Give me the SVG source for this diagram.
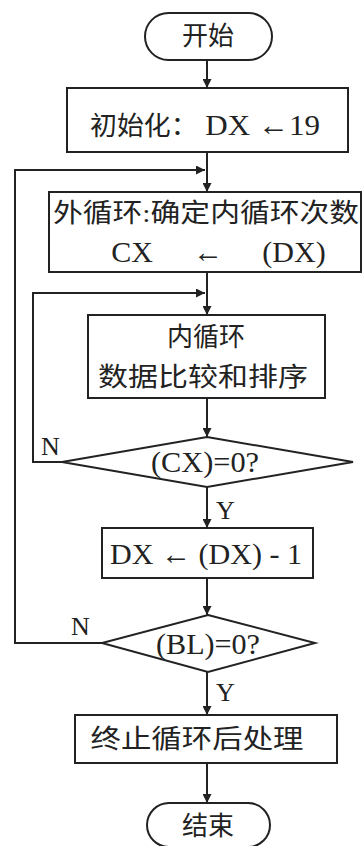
<svg xmlns="http://www.w3.org/2000/svg" width="363" height="846" viewBox="0 0 363 846">
<style>
.s{fill:#fff;stroke:#222;stroke-width:2}
.c{fill:none;stroke:#222;stroke-width:2}
.t{font-family:"Liberation Serif","Noto Sans CJK SC",serif;font-size:26px;fill:#222;text-anchor:middle}
.r{font-size:30px}
.l{font-family:"Liberation Serif",serif;font-size:26px;fill:#222}
</style>
<defs>
<marker id="a" viewBox="0 0 10 10" refX="10" refY="5" markerWidth="9" markerHeight="9" markerUnits="userSpaceOnUse" orient="auto">
<path d="M0,0 L10,5 L0,10 Z" fill="#222"/>
</marker>
</defs>
<rect width="363" height="846" fill="#fff"/>
<g id="connectors">
<line class="c" x1="207" y1="60" x2="207" y2="88" marker-end="url(#a)"/>
<line class="c" x1="207" y1="152" x2="207" y2="192" marker-end="url(#a)"/>
<line class="c" x1="207" y1="272" x2="207" y2="315" marker-end="url(#a)"/>
<line class="c" x1="207" y1="398" x2="207" y2="437" marker-end="url(#a)"/>
<line class="c" x1="207" y1="487" x2="207" y2="528" marker-end="url(#a)"/>
<line class="c" x1="207" y1="578" x2="207" y2="615" marker-end="url(#a)"/>
<line class="c" x1="207" y1="672" x2="207" y2="715" marker-end="url(#a)"/>
<line class="c" x1="207" y1="763" x2="207" y2="803" marker-end="url(#a)"/>
<polyline class="c" points="62,462 33,462 33,293 205,293" marker-end="url(#a)"/>
<polyline class="c" points="102,643 15,643 15,170 205,170" marker-end="url(#a)"/>
<text class="l" x="41" y="455">N</text>
<text class="l" x="71" y="635">N</text>
<text class="l" x="216" y="519">Y</text>
<text class="l" x="216" y="701">Y</text>
</g>
<g id="start">
<rect class="s" x="145" y="13" width="127" height="47" rx="23.5"/>
<text class="t" x="208" y="45">开始</text>
</g>
<g id="init">
<rect class="s" x="67" y="88" width="281" height="64"/>
<text class="t" x="205" y="135" textLength="230" lengthAdjust="spacingAndGlyphs">初始化：<tspan class="r"> DX ←19</tspan></text>
</g>
<g id="outer">
<rect class="s" x="49" y="192" width="312" height="80"/>
<text class="t" x="206" y="222" textLength="306" lengthAdjust="spacingAndGlyphs">外循环:确定内循环次数</text>
<text class="t r" x="132" y="262">CX</text>
<text class="t r" x="208" y="262">←</text>
<text class="t r" x="294" y="262">(DX)</text>
</g>
<g id="inner">
<rect class="s" x="88" y="315" width="237" height="83"/>
<text class="t" x="206" y="346">内循环</text>
<text class="t" x="203" y="386" textLength="210" lengthAdjust="spacingAndGlyphs">数据比较和排序</text>
</g>
<g id="cond1">
<polygon class="s" points="207,437 353,462 207,487 62,462"/>
<text class="t r" x="205" y="472" textLength="108" lengthAdjust="spacingAndGlyphs">(CX)=0?</text>
</g>
<g id="dec">
<rect class="s" x="102" y="528" width="211" height="50"/>
<text class="t r" x="206" y="564" textLength="192" lengthAdjust="spacingAndGlyphs">DX ← (DX) - 1</text>
</g>
<g id="cond2">
<polygon class="s" points="208,615 315,643 208,672 102,643"/>
<text class="t r" x="208" y="654" textLength="104" lengthAdjust="spacingAndGlyphs">(BL)=0?</text>
</g>
<g id="post">
<rect class="s" x="75" y="715" width="262" height="48"/>
<text class="t" x="197" y="748" textLength="213" lengthAdjust="spacingAndGlyphs">终止循环后处理</text>
</g>
<g id="end">
<rect class="s" x="147" y="803" width="123" height="44" rx="22"/>
<text class="t" x="208" y="835">结束</text>
</g>
</svg>
